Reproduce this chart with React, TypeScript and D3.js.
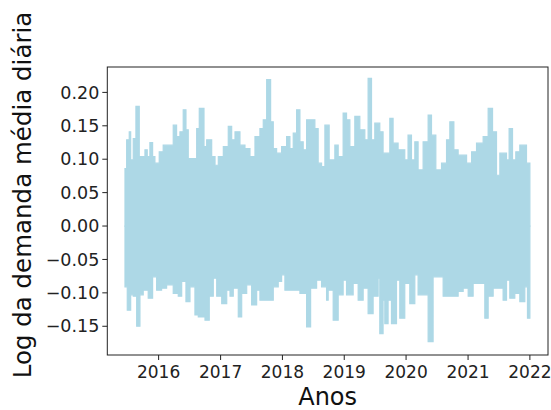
import React from "react";
import * as d3 from "d3";

// Upper envelope of the daily series (segment start in decimal years, peak value)
const upperYears = [
  2015.456, 2015.483, 2015.525, 2015.548, 2015.590, 2015.633, 2015.687, 2015.779, 2015.816, 2015.859,
  2015.903, 2015.940, 2016.010, 2016.074, 2016.236, 2016.290, 2016.344, 2016.397, 2016.441, 2016.478,
  2016.614, 2016.656, 2016.732, 2016.775, 2016.856, 2016.910, 2016.963, 2017.044, 2017.124, 2017.179,
  2017.233, 2017.313, 2017.394, 2017.475, 2017.556, 2017.636, 2017.690, 2017.745, 2017.809, 2017.852,
  2017.906, 2017.987, 2018.068, 2018.121, 2018.175, 2018.229, 2018.283, 2018.336, 2018.391, 2018.525,
  2018.578, 2018.633, 2018.687, 2018.756, 2018.848, 2018.902, 2018.982, 2019.037, 2019.091, 2019.171,
  2019.252, 2019.333, 2019.386, 2019.441, 2019.494, 2019.575, 2019.628, 2019.737, 2019.790, 2019.871,
  2019.979, 2020.032, 2020.087, 2020.141, 2020.194, 2020.275, 2020.356, 2020.410, 2020.480, 2020.572,
  2020.653, 2020.706, 2020.771, 2020.840, 2020.976, 2021.057, 2021.137, 2021.244, 2021.325, 2021.396,
  2021.460, 2021.514, 2021.622, 2021.664, 2021.719, 2021.772, 2021.837, 2021.945, 2022.0,
];
const upperValues = [
  0.086, 0.129, 0.141, 0.099, 0.131, 0.179, 0.104, 0.114, 0.104, 0.125,
  0.104, 0.094, 0.111, 0.121, 0.151, 0.134, 0.141, 0.174, 0.144, 0.101,
  0.146, 0.176, 0.119, 0.129, 0.104, 0.091, 0.104, 0.119, 0.149, 0.129,
  0.141, 0.121, 0.116, 0.104, 0.134, 0.146, 0.159, 0.219, 0.156, 0.116,
  0.109, 0.119, 0.134, 0.116, 0.139, 0.174, 0.126, 0.114, 0.159, 0.146,
  0.094, 0.089, 0.151, 0.099, 0.121, 0.104, 0.169, 0.159, 0.119, 0.164,
  0.144, 0.129, 0.221, 0.129, 0.154, 0.141, 0.109, 0.161, 0.124, 0.114,
  0.099, 0.136, 0.099, 0.126, 0.084, 0.126, 0.166, 0.136, 0.084, 0.094,
  0.129, 0.156, 0.114, 0.106, 0.094, 0.111, 0.124, 0.134, 0.176, 0.141,
  0.076, 0.109, 0.099, 0.146, 0.099, 0.111, 0.121, 0.094, 0.094,
];

// Lower envelope of the daily series (segment start in decimal years, trough value)
const lowerYears = [
  2015.456, 2015.493, 2015.548, 2015.590, 2015.645, 2015.698, 2015.751, 2015.832, 2015.903, 2015.968,
  2016.048, 2016.129, 2016.236, 2016.317, 2016.372, 2016.441, 2016.506, 2016.586, 2016.640, 2016.748,
  2016.817, 2016.882, 2016.937, 2017.018, 2017.099, 2017.152, 2017.205, 2017.286, 2017.341, 2017.422,
  2017.502, 2017.583, 2017.636, 2017.852, 2017.932, 2017.987, 2018.040, 2018.283, 2018.391, 2018.456,
  2018.553, 2018.633, 2018.714, 2018.740, 2018.821, 2018.902, 2018.982, 2019.037, 2019.144, 2019.225,
  2019.306, 2019.386, 2019.467, 2019.548, 2019.575, 2019.628, 2019.656, 2019.709, 2019.764, 2019.845,
  2019.898, 2019.979, 2020.060, 2020.141, 2020.194, 2020.356, 2020.436, 2020.598, 2020.840, 2020.921,
  2021.002, 2021.082, 2021.271, 2021.325, 2021.406, 2021.567, 2021.622, 2021.675, 2021.756, 2021.837,
  2021.918, 2021.961, 2022.0,
];
const lowerValues = [
  -0.091, -0.126, -0.103, -0.105, -0.150, -0.103, -0.096, -0.108, -0.076, -0.096,
  -0.093, -0.088, -0.101, -0.105, -0.083, -0.113, -0.091, -0.133, -0.136, -0.141,
  -0.105, -0.078, -0.105, -0.116, -0.096, -0.105, -0.093, -0.136, -0.101, -0.088,
  -0.118, -0.096, -0.111, -0.091, -0.083, -0.073, -0.096, -0.101, -0.151, -0.093,
  -0.081, -0.091, -0.111, -0.096, -0.141, -0.103, -0.081, -0.103, -0.086, -0.111,
  -0.093, -0.131, -0.105, -0.078, -0.161, -0.111, -0.146, -0.111, -0.146, -0.081,
  -0.138, -0.086, -0.116, -0.073, -0.103, -0.173, -0.076, -0.105, -0.098, -0.093,
  -0.105, -0.086, -0.138, -0.105, -0.093, -0.111, -0.081, -0.108, -0.101, -0.113,
  -0.091, -0.138, -0.138,
];

const yTicks = [-0.15, -0.1, -0.05, 0, 0.05, 0.1, 0.15, 0.2];
const xTickYears = [2016, 2017, 2018, 2019, 2020, 2021, 2022];
const xLabel = "Anos";
const yLabel = "Log da demanda média diária";

const W = 551;
const H = 410;
const plot = { left: 107.3, right: 548, top: 67, bottom: 355 };
const COLOR = "#add8e6";
const FONT = "DejaVu Sans, sans-serif";

function yearToDate(y: number): Date {
  const yr = Math.floor(y);
  const start = Date.UTC(yr, 0, 1);
  const end = Date.UTC(yr + 1, 0, 1);
  return new Date(start + (y - yr) * (end - start));
}

export default function App() {
  const x = d3
    .scaleUtc()
    .domain([yearToDate(2015.17), yearToDate(2022.293)])
    .range([plot.left, plot.right]);
  const y = d3.scaleLinear().domain([-0.193, 0.238]).range([plot.bottom, plot.top]);

  const upper = upperYears.map((t, i) => ({ d: yearToDate(t), v: upperValues[i] }));
  const lower = lowerYears.map((t, i) => ({ d: yearToDate(t), v: lowerValues[i] }));

  const area = d3
    .area<{ d: Date; v: number }>()
    .x((p) => x(p.d))
    .y0(() => y(0))
    .y1((p) => y(p.v))
    .curve(d3.curveStepAfter);

  const fmt = (v: number) => {
    const s = d3.format(".2f")(Math.abs(v));
    return v < -1e-9 ? "\u2212" + s : s;
  };

  return (
    <svg
      width={W}
      height={H}
      style={{ position: "absolute", left: 0, top: 0, background: "#fff" }}
    >
      <rect x={0} y={0} width={W} height={H} fill="#fff" />
      <path d={area(upper) || ""} fill={COLOR} stroke={COLOR} strokeWidth={1.2} />
      <path d={area(lower) || ""} fill={COLOR} stroke={COLOR} strokeWidth={1.2} />

      {/* frame */}
      <rect
        x={plot.left}
        y={plot.top}
        width={plot.right - plot.left}
        height={plot.bottom - plot.top}
        fill="none"
        stroke="#222"
        strokeWidth={1}
      />

      {/* y ticks */}
      {yTicks.map((t) => (
        <g key={"y" + t}>
          <line x1={plot.left - 5} x2={plot.left} y1={y(t)} y2={y(t)} stroke="#222" strokeWidth={1} />
          <text
            x={plot.left - 8}
            y={y(t)}
            dy="0.35em"
            textAnchor="end"
            fontFamily={FONT}
            fontSize={17.5}
            fill="#222"
          >
            {fmt(t)}
          </text>
        </g>
      ))}

      {/* x ticks */}
      {xTickYears.map((yr) => {
        const px = x(yearToDate(yr));
        return (
          <g key={"x" + yr}>
            <line x1={px} x2={px} y1={plot.bottom} y2={plot.bottom + 5} stroke="#222" strokeWidth={1} />
            <text
              x={px}
              y={plot.bottom + 23}
              textAnchor="middle"
              fontFamily={FONT}
              fontSize={17}
              fill="#222"
            >
              {yr}
            </text>
          </g>
        );
      })}

      <text
        x={(plot.left + plot.right) / 2}
        y={405}
        textAnchor="middle"
        fontFamily={FONT}
        fontSize={24}
        fill="#111"
      >
        {xLabel}
      </text>
      <text
        transform={`translate(31, ${(plot.top + plot.bottom) / 2 - 16}) rotate(-90)`}
        textAnchor="middle"
        fontFamily={FONT}
        fontSize={24.5}
        fill="#111"
      >
        {yLabel}
      </text>
    </svg>
  );
}
